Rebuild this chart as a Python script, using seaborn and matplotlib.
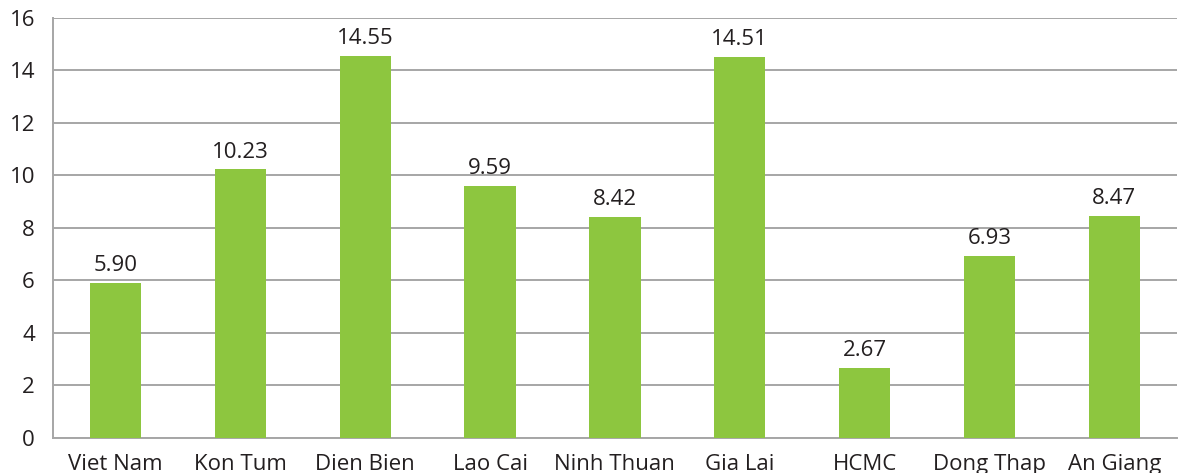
import matplotlib
matplotlib.use("Agg")
import matplotlib.pyplot as plt
import seaborn as sns
import pandas as pd
import numpy as np

regions = ["Viet Nam", "Kon Tum", "Dien Bien", "Lao Cai", "Ninh Thuan",
           "Gia Lai", "HCMC", "Dong Thap", "An Giang"]
values = [5.90, 10.23, 14.55, 9.59, 8.42, 14.51, 2.67, 6.93, 8.47]
y_ticks = [0, 2, 4, 6, 8, 10, 12, 14, 16]

sns.set_theme(style="white")
plt.rcParams["font.family"] = ["Open Sans", "DejaVu Sans"]

text_color = "#231f20"
grid_color = "#a6a6a6"
bar_color = "#8dc63f"
fs = 16

df = pd.DataFrame({"region": regions, "value": values})

fig = plt.figure(figsize=(11.78, 4.73), dpi=100)
ax = fig.add_axes([0.045, 0.074, 0.954, 0.888])

sns.barplot(data=df, x="region", y="value", color=bar_color, width=0.41,
            saturation=1, linewidth=0, ax=ax, zorder=3)

ax.set_ylim(0, 16)
ax.set_xlim(-0.5, len(regions) - 0.5)
ax.set_yticks(y_ticks)
ax.set_yticklabels([str(t) for t in y_ticks], fontsize=fs, color=text_color)
ax.set_xticks(range(len(regions)))
ax.set_xticklabels(regions, fontsize=fs, color=text_color)
ax.tick_params(axis="x", which="major", length=0, pad=11.5)
ax.tick_params(axis="y", which="major", length=6, width=1.3, color=grid_color,
               pad=7, direction="out")
ax.set_xticks(np.arange(-0.5, len(regions)), minor=True)
ax.tick_params(axis="x", which="minor", length=11, width=1.3, color=grid_color,
               direction="out")

ax.yaxis.grid(True, color=grid_color, linewidth=1.4, zorder=0)
ax.set_axisbelow(True)
for side in ["top", "right"]:
    ax.spines[side].set_visible(False)
for side in ["left", "bottom"]:
    ax.spines[side].set_color(grid_color)
    ax.spines[side].set_linewidth(1.4)

ax.set_xlabel("")
ax.set_ylabel("")

for i, v in enumerate(values):
    ax.annotate(f"{v:.2f}", (i, v), xytext=(0, 5), textcoords="offset points",
                ha="center", va="bottom", fontsize=fs, color=text_color)

fig.savefig("out.png", dpi=100)
